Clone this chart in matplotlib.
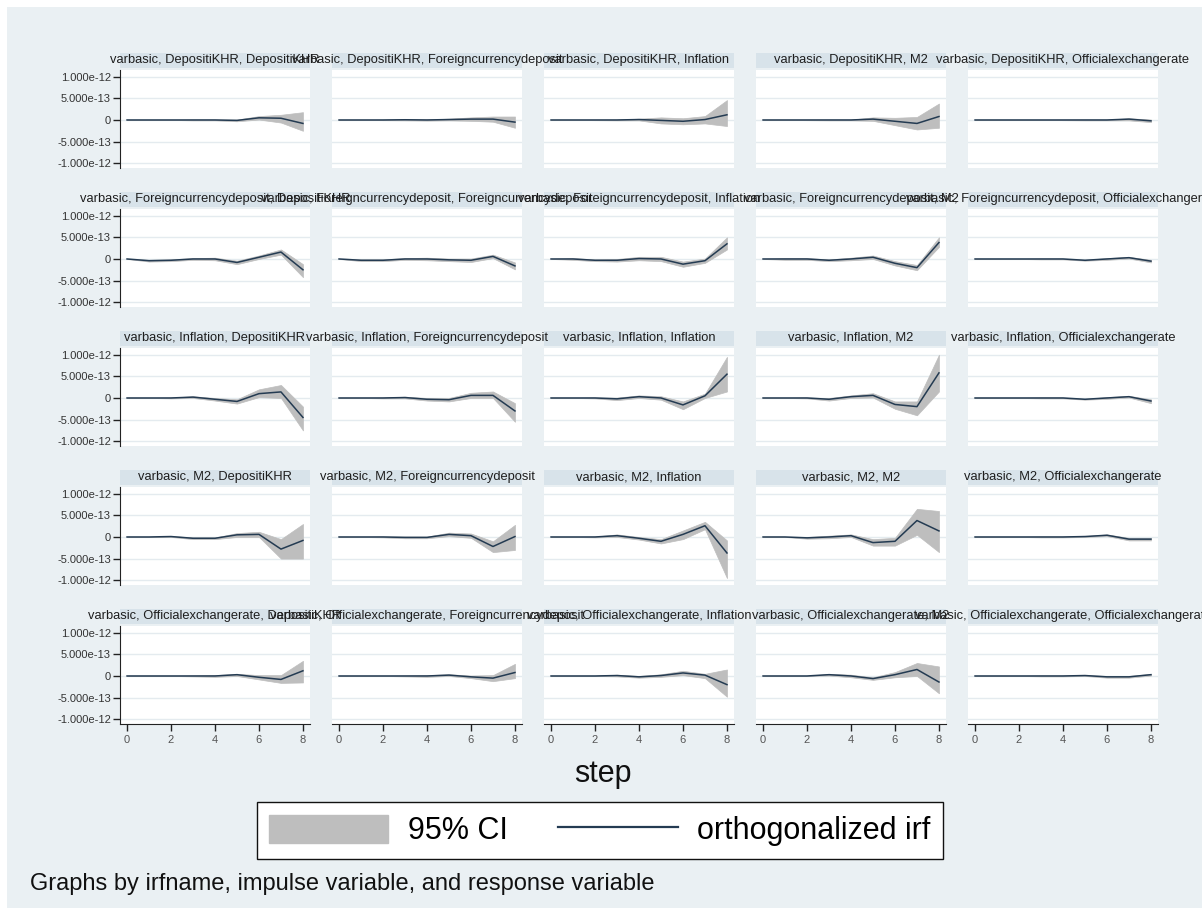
import matplotlib
matplotlib.use("Agg")
import matplotlib.pyplot as plt
from matplotlib.patches import Rectangle, Patch
from matplotlib.lines import Line2D
import numpy as np

plt.rcParams["font.family"] = ["Liberation Sans", "DejaVu Sans"]

# ---- data (impulse responses, in units of 1e-13) ----
steps = [0, 1, 2, 3, 4, 5, 6, 7, 8]
variables = ["DepositiKHR", "Foreigncurrencydeposit", "Inflation", "M2",
             "Officialexchangerate"]
irfname = "varbasic"
unit = 1e-13

# impulse: DepositiKHR (one row per response variable)
irf_dep = [[0, 0, 0, 0, 0, -0.1, 0.5, 0.4, -0.8],
           [0, 0, 0, 0.05, 0, 0.1, 0.2, 0.2, -0.5],
           [0, 0, 0, 0, 0.1, -0.1, -0.3, 0.1, 1.2],
           [0, 0, 0, 0, 0, 0.2, -0.3, -0.8, 0.8],
           [0, 0, 0, 0, 0, 0, 0, 0.2, -0.2]]
lo_dep = [[0, 0, 0, -0.1, -0.1, -0.3, 0.1, -0.6, -2.5],
          [0, 0, -0.05, -0.1, -0.15, -0.1, -0.2, -0.4, -1.8],
          [0, 0, -0.05, -0.1, -0.1, -0.8, -1.0, -0.8, -1.4],
          [0, 0, -0.05, -0.1, -0.1, -0.2, -1.2, -2.2, -1.8],
          [0, 0, 0, 0, -0.05, -0.1, -0.1, -0.1, -0.5]]
hi_dep = [[0, 0, 0, 0.1, 0.1, 0.1, 0.9, 1.2, 1.8],
          [0, 0, 0.05, 0.2, 0.15, 0.3, 0.6, 0.8, 0.8],
          [0, 0, 0.05, 0.1, 0.3, 0.6, 0.4, 0.9, 4.6],
          [0, 0, 0.05, 0.1, 0.1, 0.6, 0.5, 0.7, 3.8],
          [0, 0, 0, 0, 0.05, 0.1, 0.1, 0.4, 0.1]]

# impulse: Foreigncurrencydeposit
irf_fcd = [[0, -0.4, -0.3, 0, 0, -0.8, 0.4, 1.6, -2.5],
           [0, -0.3, -0.3, 0, 0, -0.2, -0.3, 0.6, -1.6],
           [0, 0, -0.3, -0.3, 0.1, 0, -1.2, -0.4, 3.5],
           [0, 0, 0, -0.3, 0, 0.4, -1.0, -2.0, 3.8],
           [0, 0, 0, 0, 0, -0.3, 0, 0.3, -0.5]]
lo_fcd = [[0, -0.6, -0.5, -0.2, -0.3, -1.2, 0.0, 1.0, -4.2],
          [0, -0.5, -0.5, -0.2, -0.3, -0.5, -0.7, 0.2, -2.4],
          [0, -0.2, -0.5, -0.6, -0.3, -0.5, -1.8, -0.9, 2.2],
          [0, -0.2, -0.2, -0.5, -0.3, 0, -1.5, -2.6, 2.8],
          [0, 0, 0, -0.1, -0.1, -0.4, -0.2, 0.1, -0.8]]
hi_fcd = [[0, -0.2, -0.1, 0.2, 0.3, -0.4, 0.8, 2.2, -1.2],
          [0, -0.1, -0.1, 0.2, 0.3, 0.1, 0.1, 1.0, -0.8],
          [0, 0.2, -0.1, 0, 0.5, 0.5, -0.6, 0.1, 5.0],
          [0, 0.2, 0.2, -0.1, 0.3, 0.8, -0.5, -1.4, 5.0],
          [0, 0, 0, 0.1, 0.1, -0.2, 0.2, 0.5, -0.2]]

# impulse: Inflation
irf_inf = [[0, 0, 0, 0.2, -0.3, -0.8, 1.0, 1.4, -4.5],
           [0, 0, 0, 0.1, -0.3, -0.4, 0.6, 0.6, -3.0],
           [0, 0, 0, -0.2, 0.3, 0, -1.6, 0.5, 5.5],
           [0, 0, 0, -0.3, 0.3, 0.6, -1.5, -2.0, 5.8],
           [0, 0, 0, 0, 0, -0.3, 0, 0.3, -0.7]]
lo_inf = [[0, 0, -0.1, 0, -0.6, -1.3, 0.2, 0, -7.5],
          [0, 0, -0.1, -0.1, -0.6, -0.8, 0, 0, -5.5],
          [0, 0, -0.1, -0.5, 0, -0.4, -2.6, 0, 1.5],
          [0, 0, -0.1, -0.6, 0, 0.1, -2.5, -4.0, 1.5],
          [0, 0, 0, -0.1, -0.1, -0.4, -0.2, 0.1, -1.2]]
hi_inf = [[0, 0, 0.1, 0.4, 0, -0.3, 2.0, 3.0, -2.0],
          [0, 0, 0.1, 0.3, 0, 0, 1.2, 1.5, -1.2],
          [0, 0, 0.1, 0.1, 0.6, 0.4, -0.8, 1.0, 9.5],
          [0, 0, 0.1, 0, 0.6, 1.1, -0.8, -0.8, 10.0],
          [0, 0, 0, 0.1, 0.1, -0.2, 0.2, 0.5, -0.3]]

# impulse: M2
irf_m2 = [[0, 0, 0.1, -0.3, -0.3, 0.5, 0.6, -2.8, -0.8],
          [0, 0, 0, -0.1, -0.1, 0.6, 0.3, -2.2, 0.1],
          [0, 0, 0, 0.3, -0.3, -1.0, 0.6, 2.6, -3.7],
          [0, 0, -0.2, 0, 0.3, -1.3, -1.0, 3.8, 1.4],
          [0, 0, 0, 0, 0, 0.1, 0.4, -0.5, -0.5]]
lo_m2 = [[0, 0, 0, -0.5, -0.5, 0, 0, -5.0, -5.0],
         [0, 0, -0.1, -0.3, -0.3, 0.2, -0.2, -3.5, -3.0],
         [0, 0, -0.1, 0, -0.6, -1.5, -0.5, 1.8, -9.5],
         [0, 0, -0.4, -0.3, 0, -2.0, -2.0, 0.5, -3.5],
         [0, 0, 0, -0.1, -0.1, 0, 0.2, -0.8, -0.8]]
hi_m2 = [[0, 0, 0.2, -0.1, -0.1, 0.9, 1.2, -0.5, 3.0],
         [0, 0, 0.1, 0.1, 0.1, 1.0, 0.8, -1.0, 2.8],
         [0, 0, 0.1, 0.6, 0, -0.5, 1.5, 3.5, -0.8],
         [0, 0, 0, 0.3, 0.6, -0.5, -0.2, 6.5, 6.0],
         [0, 0, 0, 0.1, 0.1, 0.2, 0.6, -0.2, -0.2]]

# impulse: Officialexchangerate
irf_ofx = [[0, 0, 0, 0, 0, 0.3, -0.3, -0.8, 1.2],
           [0, 0, 0, 0, 0, 0.2, -0.2, -0.5, 0.8],
           [0, 0, 0, 0.1, -0.2, 0.1, 0.7, 0.2, -2.0],
           [0, 0, 0, 0.3, 0, -0.6, 0.3, 1.5, -1.4],
           [0, 0, 0, 0, 0, 0.1, -0.2, -0.2, 0.3]]
lo_ofx = [[0, 0, 0, -0.1, -0.2, 0, -0.8, -1.6, -1.5],
          [0, 0, 0, -0.1, -0.2, 0, -0.5, -1.2, -0.5],
          [0, 0, 0, -0.1, -0.4, -0.2, 0.2, -0.5, -4.8],
          [0, 0, 0, 0.1, -0.3, -0.9, -0.3, 0, -4.0],
          [0, 0, 0, -0.1, -0.1, 0, -0.4, -0.4, 0.1]]
hi_ofx = [[0, 0, 0, 0.1, 0.2, 0.5, 0.2, 0.2, 3.5],
          [0, 0, 0, 0.1, 0.2, 0.4, 0.1, 0.2, 2.8],
          [0, 0, 0, 0.3, 0, 0.4, 1.2, 0.5, 1.5],
          [0, 0, 0, 0.5, 0.3, -0.3, 0.9, 3.0, 2.2],
          [0, 0, 0, 0.1, 0.1, 0.2, 0, 0, 0.5]]

irf_all = [irf_dep, irf_fcd, irf_inf, irf_m2, irf_ofx]
lo_all = [lo_dep, lo_fcd, lo_inf, lo_m2, lo_ofx]
hi_all = [hi_dep, hi_fcd, hi_inf, hi_m2, hi_ofx]

yticks = [1e-12, 5e-13, 0, -5e-13, -1e-12]
ytick_labels = ["1.000e-12", "5.000e-13", "0", "-5.000e-13", "-1.000e-12"]
xticks = [0, 2, 4, 6, 8]

# ---- styling ----
W, H = 1202, 908
bg = "#EAF0F3"
band = "#D8E3EA"
ci_col = "#BEBEBE"
line_col = "#243B52"
grid_col = "#E4EBEF"

fig = plt.figure(figsize=(W / 100, H / 100), dpi=100, facecolor="white")
fig.patches.append(Rectangle((7 / W, 0), 1 - 7 / W, 1 - 7 / H,
                             transform=fig.transFigure, facecolor=bg,
                             edgecolor="none", zorder=-10))

left0, col_pitch, pw = 120, 212, 190
top0, row_pitch, ph = 70, 139, 98

for r, imp in enumerate(variables):
    for c, resp in enumerate(variables):
        lx = left0 + c * col_pitch
        ty = top0 + r * row_pitch
        ax = fig.add_axes([lx / W, 1 - (ty + ph) / H, pw / W, ph / H])
        ax.set_facecolor("white")
        x = np.array(steps)
        y = np.array(irf_all[r][c]) * unit
        lo = np.array(lo_all[r][c]) * unit
        hi = np.array(hi_all[r][c]) * unit
        ax.fill_between(x, lo, hi, color=ci_col, lw=0.5, zorder=2)
        ax.plot(x, y, color=line_col, lw=1.1, zorder=3)
        ax.set_xlim(-0.32, 8.32)
        ax.set_ylim(-1.11e-12, 1.155e-12)
        ax.set_yticks(yticks)
        ax.set_xticks(xticks)
        ax.grid(axis="y", color=grid_col, lw=1.0, zorder=0)
        ax.set_axisbelow(True)
        for s in ["top", "right"]:
            ax.spines[s].set_visible(False)
        if c == 0:
            ax.spines["left"].set_color("#222222")
            ax.set_yticklabels(ytick_labels)
            ax.tick_params(axis="y", length=5, width=1, pad=1.5,
                           labelsize=8, colors="#222222",
                           labelcolor="#333333")
        else:
            ax.spines["left"].set_visible(False)
            ax.tick_params(axis="y", left=False, labelleft=False)
        if r == len(variables) - 1:
            ax.spines["bottom"].set_color("#222222")
            ax.set_xticklabels([str(t) for t in xticks])
            ax.tick_params(axis="x", length=5, width=1, pad=3,
                           labelsize=8, colors="#222222",
                           labelcolor="#555555")
        else:
            ax.spines["bottom"].set_visible(False)
            ax.tick_params(axis="x", bottom=False, labelbottom=False)

        # subtitle band and panel title
        fig.patches.append(Rectangle((lx / W, 1 - (ty - 2) / H), pw / W, 15 / H,
                                     transform=fig.transFigure,
                                     facecolor=band, edgecolor="none",
                                     zorder=-5))
        fig.text((lx + pw / 2) / W, 1 - (ty - 10) / H,
                 f"{irfname}, {imp}, {resp}", ha="center", va="center",
                 fontsize=9.3, color="#1E1E1E", zorder=5)

# common x title
fig.text(603 / W, 1 - 782 / H, "step", ha="center", va="baseline",
         fontsize=22, color="#111111")

# legend
handles = [Patch(facecolor=ci_col, edgecolor=ci_col, label="95% CI"),
           Line2D([0], [0], color=line_col, lw=1.6, label="orthogonalized irf")]
leg = fig.legend(handles=handles, loc="center", ncol=2,
                 bbox_to_anchor=(600 / W, 1 - 830.5 / H),
                 fontsize=22, frameon=True, fancybox=False,
                 handlelength=3.9, handleheight=1.05, handletextpad=0.65,
                 columnspacing=1.65, borderpad=0.4, borderaxespad=0)
frame = leg.get_frame()
frame.set_edgecolor("#111111")
frame.set_linewidth(1.0)
frame.set_facecolor("white")
frame.set_alpha(1)

# note
fig.text(30 / W, 1 - 890 / H,
         "Graphs by irfname, impulse variable, and response variable",
         ha="left", va="baseline", fontsize=17, color="#111111")

fig.savefig("out.png", dpi=100, facecolor="white")
